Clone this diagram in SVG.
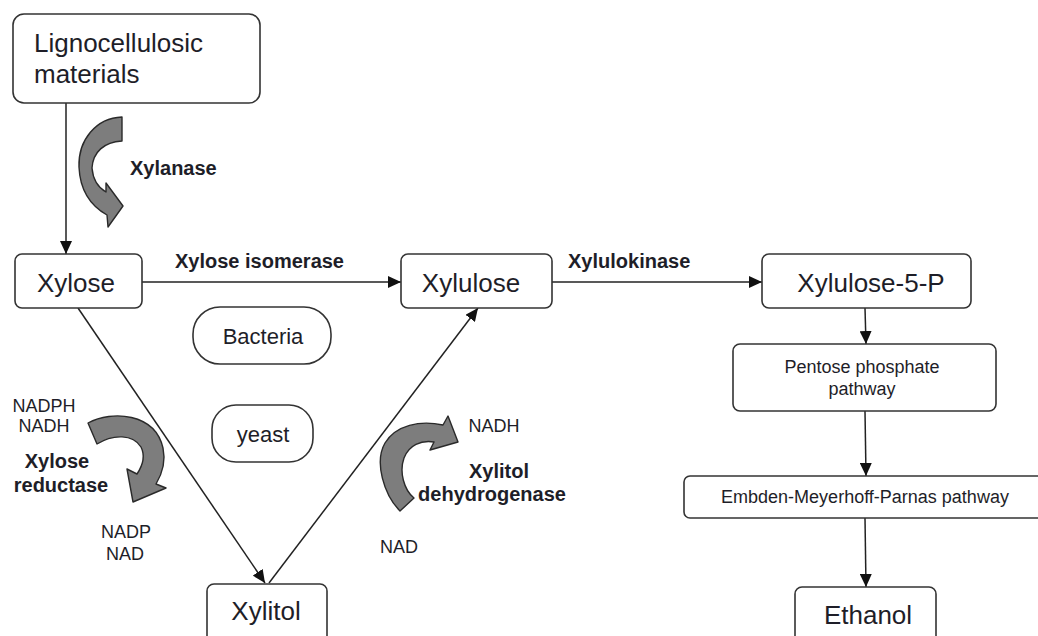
<svg xmlns="http://www.w3.org/2000/svg" width="1038" height="636" viewBox="0 0 1038 636">
<defs>
<style>
.box{fill:#fff;stroke:#333;stroke-width:1.6}
.t{font-family:"Liberation Sans",Arial,sans-serif;fill:#1e1e28}
.big{font-size:26px}
.mid{font-size:18px}
.pill{font-size:22px}
.lab{font-size:20px;font-weight:bold}
.c{text-anchor:middle}
.edge{stroke:#222;stroke-width:1.5;fill:none}
.curl{fill:#7d7d7d;stroke:#2a2a2a;stroke-width:1.4;stroke-linejoin:round}
</style>
<marker id="ah" markerUnits="userSpaceOnUse" markerWidth="14" markerHeight="12" refX="13" refY="6" orient="auto">
<path d="M0,0 L13,6 L0,12 Z" fill="#111"/>
</marker>
</defs>
<rect width="1038" height="636" fill="#fff"/>

<g id="connectors">
<line class="edge" x1="66" y1="88" x2="66" y2="254" marker-end="url(#ah)"/>
<line class="edge" x1="137" y1="282" x2="401" y2="282" marker-end="url(#ah)"/>
<line class="edge" x1="546" y1="282" x2="762" y2="282" marker-end="url(#ah)"/>
<line class="edge" x1="865" y1="308" x2="866" y2="344" marker-end="url(#ah)"/>
<line class="edge" x1="865" y1="411" x2="866" y2="476" marker-end="url(#ah)"/>
<line class="edge" x1="865" y1="518" x2="866" y2="587" marker-end="url(#ah)"/>
<line class="edge" x1="78" y1="308" x2="265" y2="583" marker-end="url(#ah)"/>
<line class="edge" x1="269" y1="583" x2="478" y2="308" marker-end="url(#ah)"/>
</g>

<g id="lignocellulosic">
<rect class="box" x="13" y="14" width="247" height="89" rx="11"/>
<text class="t big" x="34" y="52">Lignocellulosic</text>
<text class="t big" x="34" y="83">materials</text>
</g>

<g id="xylose">
<rect class="box" x="15" y="254" width="127" height="54" rx="7"/>
<text class="t big c" x="76" y="292">Xylose</text>
</g>

<g id="xylulose">
<rect class="box" x="401" y="254" width="151" height="54" rx="7"/>
<text class="t big c" x="471" y="292">Xylulose</text>
</g>

<g id="xylulose5p">
<rect class="box" x="762" y="254" width="209" height="54" rx="7"/>
<text class="t big c" x="871" y="292">Xylulose-5-P</text>
</g>

<g id="pentose">
<rect class="box" x="733" y="344" width="263" height="67" rx="7"/>
<text class="t mid c" x="862" y="373">Pentose phosphate</text>
<text class="t mid c" x="862" y="395">pathway</text>
</g>

<g id="emp">
<rect class="box" x="684" y="476" width="370" height="42" rx="6"/>
<text class="t mid c" x="865" y="503">Embden-Meyerhoff-Parnas pathway</text>
</g>

<g id="ethanol">
<rect class="box" x="795" y="587" width="141" height="60" rx="7"/>
<text class="t big c" x="868" y="624">Ethanol</text>
</g>

<g id="xylitol">
<rect class="box" x="207" y="584" width="120" height="60" rx="7"/>
<text class="t big c" x="266" y="620">Xylitol</text>
</g>

<g id="bacteria">
<rect class="box" x="193" y="307" width="138" height="57" rx="27"/>
<text class="t pill c" x="263" y="344">Bacteria</text>
</g>

<g id="yeast">
<rect class="box" x="212" y="405" width="101" height="57" rx="24"/>
<text class="t pill c" x="263" y="442">yeast</text>
</g>

<g id="xylanase">
<path class="curl" d="M122,117 C96,118 78,140 79,167 C80,190 91,206 107,215 L108,227 L123,206 L106,183 L106,192 C99,188 93,180 92,168 C93,152 104,142 122,141 Z"/>
<text class="t lab" x="130" y="175">Xylanase</text>
</g>

<g id="xylose-reductase">
<path class="curl" d="M88,423 C112,410 155,413 163,448 C166,462 162,474 156,484 L166,488 L133,502 L127,469 L137,474 C143,465 145,455 141,447 C133,434 113,434 97,444 Z"/>
<text class="t mid c" x="44" y="412">NADPH</text>
<text class="t mid c" x="44" y="432">NADH</text>
<text class="t lab c" x="57" y="468">Xylose</text>
<text class="t lab c" x="61" y="492">reductase</text>
<text class="t mid c" x="126" y="538">NADP</text>
<text class="t mid c" x="125" y="560">NAD</text>
</g>

<g id="xylitol-dehydrogenase">
<path class="curl" d="M400,511 C384,495 374,462 385,443 C396,425 420,420 443,425 L448,416 L458,442 L430,450 L434,442 C421,440 409,445 404,458 C399,472 404,490 414,498 Z"/>
<text class="t mid c" x="494" y="432">NADH</text>
<text class="t lab c" x="499" y="478">Xylitol</text>
<text class="t lab c" x="492" y="501">dehydrogenase</text>
<text class="t mid c" x="399" y="553">NAD</text>
</g>

<g id="labels">
<text class="t lab" x="175" y="268">Xylose isomerase</text>
<text class="t lab" x="568" y="268">Xylulokinase</text>
</g>
</svg>
